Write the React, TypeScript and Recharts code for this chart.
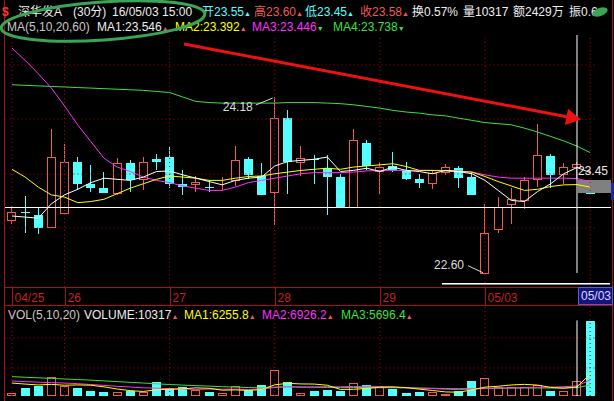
import React from "react";
import { ComposedChart, Bar, Line, XAxis, YAxis, ReferenceLine, ReferenceDot } from "recharts";

// 30-minute bars, 04/25 afternoon through the first bar of 05/04
const SLOTS = ["10:00", "10:30", "11:00", "11:30", "13:30", "14:00", "14:30", "15:00"];
const DAYS = ["04/25", "04/26", "04/27", "04/28", "04/29", "05/03", "05/04"];
// 05/04 sits under the cursor date box, so it gets no label of its own
const DAY_LABELS = ["04/25", "26", "27", "28", "29", "05/03", ""];
const CATS = [
  ...SLOTS.slice(4).map((s) => `04/25 ${s}`),
  ...DAYS.slice(1, 6).flatMap((d) => SLOTS.map((s) => `${d} ${s}`)),
  `05/04 ${SLOTS[0]}`,
];

const OPEN = [
  23.07, 23.15, 23.12, 23.01, 23.14, 23.6, 23.4, 23.36, 23.32, 23.59,
  23.44, 23.62, 23.64, 23.4, 23.4, 23.375, 23.385, 23.43, 23.62, 23.47,
  23.33, 23.99, 23.6, 23.625, 23.54, 23.46, 23.19, 23.77, 23.515, 23.56,
  23.52, 23.44, 23.41, 23.51, 23.54, 23.46, 22.6, 22.99, 23.22, 23.25,
  23.44, 23.65, 23.49, 23.55, 23.315,
];
const HIGH = [
  23.2, 23.29, 23.19, 23.89, 23.76, 23.64, 23.57, 23.51, 23.63, 23.61,
  23.64, 23.67, 23.74, 23.52, 23.47, 23.43, 23.46, 23.74, 23.64, 23.59,
  24.18, 24.06, 23.74, 23.66, 23.66, 23.49, 23.89, 23.79, 23.6, 23.685,
  23.6, 23.49, 23.52, 23.58, 23.56, 23.51, 23.22, 23.28, 23.36, 23.46,
  23.94, 23.67, 23.59, 23.6, 23.315,
];
const LOW = [
  23.04, 22.96, 22.95, 23.0, 23.13, 23.34, 23.33, 23.32, 23.3, 23.33,
  23.34, 23.52, 23.36, 23.3, 23.33, 23.33, 23.34, 23.38, 23.44, 23.3,
  23.03, 23.31, 23.47, 23.4, 23.12, 23.19, 23.19, 23.52, 23.31, 23.505,
  23.43, 23.36, 23.35, 23.48, 23.36, 23.3, 22.6, 22.955, 23.04, 23.17,
  23.37, 23.36, 23.4, 23.45, 23.31,
];
const CLOSE = [
  23.15, 23.14, 23.0, 23.64, 23.6, 23.4, 23.36, 23.32, 23.59, 23.43,
  23.6, 23.6, 23.4, 23.37, 23.42, 23.37, 23.39, 23.61, 23.48, 23.3,
  23.99, 23.6, 23.63, 23.61, 23.46, 23.19, 23.79, 23.56, 23.55, 23.52,
  23.44, 23.41, 23.5, 23.55, 23.45, 23.3, 22.96, 23.19, 23.26, 23.43,
  23.66, 23.48, 23.55, 23.58, 23.31,
];
const MA5 = [
  23.11, 23.1, 23.09, 23.22, 23.3, 23.35, 23.41, 23.45, 23.44, 23.43,
  23.46, 23.51, 23.515, 23.48, 23.45, 23.42, 23.39, 23.43, 23.45, 23.46,
  23.56, 23.6, 23.61, 23.62, 23.64, 23.51, 23.52, 23.54, 23.51, 23.55,
  23.52, 23.51, 23.49, 23.52, 23.51, 23.49, 23.43, 23.34, 23.25, 23.24,
  23.33, 23.4, 23.49, 23.546, 23.5,
];
const MA10 = [
  23.53, 23.46, 23.37, 23.3, 23.28, 23.23, 23.24, 23.26, 23.31, 23.36,
  23.4, 23.44, 23.47, 23.46, 23.45, 23.43, 23.43, 23.45, 23.465, 23.47,
  23.49, 23.505, 23.52, 23.53, 23.54, 23.53, 23.55, 23.56, 23.57, 23.58,
  23.555, 23.52, 23.52, 23.515, 23.51, 23.505, 23.465, 23.42, 23.38, 23.34,
  23.35, 23.375, 23.39, 23.392, 23.37,
];
const MA20 = [
  24.62, 24.51, 24.39, 24.26, 24.1, 23.93, 23.78, 23.63, 23.55, 23.51,
  23.46, 23.43, 23.41, 23.38, 23.36, 23.34, 23.34, 23.37, 23.41, 23.43,
  23.45, 23.47, 23.49, 23.5, 23.5, 23.5, 23.505, 23.515, 23.52, 23.52,
  23.52, 23.52, 23.52, 23.52, 23.515, 23.505, 23.48, 23.46, 23.45, 23.45,
  23.45, 23.45, 23.45, 23.446, 23.42,
];
const MA60 = [
  24.29, 24.285, 24.28, 24.275, 24.27, 24.265, 24.26, 24.255, 24.25, 24.245,
  24.24, 24.23, 24.22, 24.18, 24.14, 24.13, 24.125, 24.125, 24.125, 24.125,
  24.125, 24.13, 24.13, 24.13, 24.125, 24.12, 24.11, 24.095, 24.08, 24.06,
  24.045, 24.035, 24.02, 24.01, 23.99, 23.97, 23.95, 23.94, 23.93, 23.9,
  23.865, 23.825, 23.785, 23.738, 23.68,
];
const VOL = [
  1860, 5700, 6880, 12860, 6880, 5700, 3440, 2750, 2960, 3440,
  2750, 9630, 5300, 5980, 4130, 2960, 1860, 6880, 4130, 7570,
  17880, 9630, 1860, 3650, 4130, 3650, 8730, 7360, 6190, 5020,
  1860, 2960, 2960, 1380, 3650, 10320, 12170, 5980, 5980, 5980,
  7570, 3650, 3440, 10317, 51590,
];
const VMA5 = [
  8900, 8200, 7600, 8000, 7400, 7600, 7400, 6300, 4800, 3700,
  3100, 4300, 4600, 4900, 5600, 5300, 4000, 4200, 3800, 4500,
  7700, 8700, 8300, 8200, 7400, 4500, 4600, 5200, 6000, 6200,
  5800, 4700, 3800, 2800, 2600, 4200, 6100, 6700, 7600, 8000,
  7500, 5900, 5300, 6255.8, 15100,
];
const VMA10 = [
  10300, 9900, 9500, 9200, 8900, 8500, 7900, 7300, 6700, 6200,
  5600, 5400, 5000, 4900, 4500, 4800, 4700, 4700, 4500, 4800,
  5900, 6300, 6000, 6200, 6400, 6300, 6500, 6700, 6500, 6200,
  5600, 5300, 5100, 4700, 4400, 4800, 5200, 5500, 5600, 5800,
  6000, 6100, 6400, 6926.2, 11000,
];
const VMA20 = [
  13300, 12900, 12500, 12100, 11700, 11300, 10900, 10400, 9900, 9400,
  8900, 8400, 7900, 7500, 7100, 6800, 6400, 6100, 5800, 5600,
  6100, 6400, 6200, 6000, 5900, 5800, 5800, 5800, 5700, 5700,
  5600, 5500, 5300, 5100, 5000, 5100, 5200, 5300, 5400, 5500,
  5500, 5500, 5600, 5696.4, 7600,
];

const PRICE_DOMAIN = [22.4714, 24.7376];
const PRICE_GRID = [23.002, 23.488, 23.982, 24.468];
const VOL_DOMAIN = [0, 61900];
const VOL_GRID = [19250, 39900];
const CUR = 43; // cursor bar, 05/03 15:00

const FONT = '"Liberation Sans", Arial, "Noto Sans CJK SC", sans-serif';
const RED = "#f05a55";
const CYAN = "#54ffff";
const WHITE = "#eeeeee";
const YELLOW = "#ffff00";
const MAGENTA = "#ff30ff";
const GREEN = "#3ee03e";
const GRID = "#b00000";
const FRAME = "#a01414";
const DATE_RED = "#c42020";

const rows = CATS.map((t, i) => ({
  t,
  open: OPEN[i],
  high: HIGH[i],
  low: LOW[i],
  close: CLOSE[i],
  ma5: MA5[i],
  ma10: MA10[i],
  ma20: MA20[i],
  ma60: MA60[i],
  vol: VOL[i],
  vma5: VMA5[i],
  vma10: VMA10[i],
  vma20: VMA20[i],
}));
const dayStarts = CATS.filter((t, i) => i === 0 || t.slice(0, 5) !== CATS[i - 1].slice(0, 5));

function Candle(props: any) {
  const { x, y, width, height, payload } = props;
  const { open, high, low, close } = payload;
  const top = Math.min(y, y + height);
  const bot = Math.max(y, y + height);
  const span = high - low;
  const py = (v: number) => (span > 0 ? top + ((high - v) / span) * (bot - top) : top);
  const lx = Math.round(x);
  const wx = lx + 4.5;
  const up = close >= open;
  const bTop = Math.round(py(Math.max(open, close)));
  const bBot = Math.round(py(Math.min(open, close)));
  if (up) {
    return (
      <g>
        <line x1={wx} x2={wx} y1={Math.round(top)} y2={Math.round(bot)} stroke={RED} />
        <rect x={lx + 0.5} y={bTop + 0.5} width={width - 1} height={Math.max(bBot - bTop, 0)} fill="#000" stroke={RED} />
      </g>
    );
  }
  return (
    <g>
      <line x1={wx} x2={wx} y1={Math.round(top)} y2={Math.round(bot)} stroke={CYAN} />
      <rect x={lx} y={bTop} width={width} height={Math.max(bBot - bTop, 1)} fill={CYAN} />
    </g>
  );
}

function VolBar(props: any) {
  const { x, y, width, height, payload } = props;
  const lx = Math.round(x);
  const ty = Math.round(y);
  const h = Math.round(y + height) - ty;
  if (payload.close >= payload.open) {
    return <rect x={lx + 0.5} y={ty + 0.5} width={width - 1} height={Math.max(h - 1, 0)} fill="none" stroke={RED} />;
  }
  return <rect x={lx} y={ty} width={width} height={h} fill={CYAN} />;
}

function DayTick(props: any) {
  const { x, y, payload } = props;
  const label = DAY_LABELS[DAYS.indexOf(String(payload.value).slice(0, 5))];
  const lx = Math.round(x) + 0.5;
  return (
    <g>
      <line x1={lx} x2={lx} y1={y} y2={y + 18} stroke={FRAME} />
      {label && (
        <text x={lx + 2} y={y + 15} fill={DATE_RED} fontSize={12} fontFamily={FONT}>
          {label}
        </text>
      )}
    </g>
  );
}

type Item = { t: string; c: string; x: number; m?: string; mc?: string };
const f2 = (v: number) => v.toFixed(2);
const ROW1: Item[] = [
  { t: "深华发A", c: WHITE, x: 18 },
  { t: "(30分)", c: WHITE, x: 73 },
  { t: "16/05/03 15:00", c: WHITE, x: 112 },
  { t: "开" + f2(OPEN[CUR]), c: CYAN, x: 202, m: "▲", mc: CYAN },
  { t: "高" + f2(HIGH[CUR]), c: RED, x: 254, m: "▲", mc: RED },
  { t: "低" + f2(LOW[CUR]), c: CYAN, x: 305, m: "▲", mc: CYAN },
  { t: "收" + f2(CLOSE[CUR]), c: RED, x: 360, m: "▲", mc: RED },
  { t: "换0.57%", c: WHITE, x: 412 },
  { t: "量" + VOL[CUR], c: WHITE, x: 463 },
  { t: "额2429万", c: WHITE, x: 513 },
  { t: "振0.6", c: WHITE, x: 569 },
];
const ROW2: Item[] = [
  { t: "MA(5,10,20,60)", c: "#c8c8c8", x: 7 },
  { t: "MA1:" + MA5[CUR].toFixed(3), c: WHITE, x: 97, m: "▲", mc: RED },
  { t: "MA2:" + MA10[CUR].toFixed(3), c: YELLOW, x: 175, m: "▲", mc: RED },
  { t: "MA3:" + MA20[CUR].toFixed(3), c: MAGENTA, x: 252, m: "▼", mc: GREEN },
  { t: "MA4:" + MA60[CUR].toFixed(3), c: GREEN, x: 333, m: "▼", mc: GREEN },
];
const ROW3: Item[] = [
  { t: "VOL(5,10,20)", c: "#c8c8c8", x: 8 },
  { t: "VOLUME:" + VOL[CUR], c: WHITE, x: 84, m: "▲", mc: RED },
  { t: "MA1:" + VMA5[CUR].toFixed(1), c: YELLOW, x: 184, m: "▲", mc: RED },
  { t: "MA2:" + VMA10[CUR].toFixed(1), c: MAGENTA, x: 262, m: "▲", mc: RED },
  { t: "MA3:" + VMA20[CUR].toFixed(1), c: GREEN, x: 341, m: "▲", mc: RED },
];

function TextRow({ items, top }: { items: Item[]; top: number }) {
  return (
    <>
      {items.map((it) => (
        <span
          key={it.t}
          style={{ position: "absolute", left: it.x, top, fontSize: 12, lineHeight: "14px", color: it.c, whiteSpace: "nowrap" }}
        >
          {it.t}
          {it.m && <span style={{ fontSize: 7, color: it.mc }}>{it.m}</span>}
        </span>
      ))}
    </>
  );
}

const box = (left: number, top: number, width: number, height: number, background: string): React.CSSProperties => ({
  position: "absolute",
  left,
  top,
  width,
  height,
  background,
});

export default function App() {
  const margin = { top: 0, right: 17.3, bottom: 0, left: 5.4 };
  return (
    <div
      style={{ position: "fixed", left: 0, top: 0, width: 614, height: 401, background: "#000", overflow: "hidden", fontFamily: FONT }}
    >
      <div style={box(578, 180, 33, 13, "#808080")} />
      <div style={box(612, 0, 1, 401, FRAME)} />

      <div style={{ position: "absolute", left: 0, top: 35 }}>
        <ComposedChart width={614} height={270} data={rows} margin={margin}>
          <XAxis
            dataKey="t"
            ticks={dayStarts}
            interval={0}
            tickLine={false}
            axisLine={false}
            tickSize={0}
            tickMargin={0}
            height={18}
            tick={<DayTick />}
          />
          <YAxis type="number" domain={PRICE_DOMAIN} allowDataOverflow hide />
          {PRICE_GRID.map((v) => (
            <ReferenceLine key={v} y={v} stroke={GRID} strokeDasharray="1 3" />
          ))}
          {dayStarts.map((t) => (
            <ReferenceLine key={t} x={t} stroke={GRID} strokeDasharray="1 3" />
          ))}
          <Bar dataKey={(d: any) => [d.low, d.high]} barSize={9} shape={<Candle />} isAnimationActive={false} />
          <Line dataKey="ma60" stroke={GREEN} dot={false} strokeWidth={1} isAnimationActive={false} />
          <Line dataKey="ma20" stroke={MAGENTA} dot={false} strokeWidth={1} isAnimationActive={false} />
          <Line dataKey="ma10" stroke={YELLOW} dot={false} strokeWidth={1} isAnimationActive={false} />
          <Line dataKey="ma5" stroke="#ffffff" dot={false} strokeWidth={1} isAnimationActive={false} />
          <ReferenceLine
            segment={[
              { x: CATS[CUR], y: PRICE_DOMAIN[1] },
              { x: CATS[CUR], y: 22.597 },
            ]}
            stroke="#ffffff"
          />
          <ReferenceDot
            x={CATS[20]}
            y={HIGH[20]}
            r={0}
            shape={(p: any) => (
              <g>
                <line x1={p.cx - 2} y1={p.cy + 1} x2={p.cx - 19} y2={p.cy + 8} stroke="#dddddd" />
                <text x={p.cx - 22} y={p.cy + 14} textAnchor="end" fill="#dddddd" fontSize={12} fontFamily={FONT}>
                  {f2(HIGH[20])}
                </text>
              </g>
            )}
          />
          <ReferenceDot
            x={CATS[36]}
            y={LOW[36]}
            r={0}
            shape={(p: any) => (
              <g>
                <line x1={p.cx - 2} y1={p.cy} x2={p.cx - 17} y2={p.cy - 7} stroke="#dddddd" />
                <text x={p.cx - 21} y={p.cy - 4} textAnchor="end" fill="#dddddd" fontSize={12} fontFamily={FONT}>
                  {f2(LOW[36])}
                </text>
              </g>
            )}
          />
          <ReferenceDot
            x={CATS[CUR]}
            y={LOW[CUR]}
            r={0}
            shape={(p: any) => (
              <text x={p.cx + 1} y={p.cy - 3.5} fill="#e8e8e8" fontSize={12} fontFamily={FONT}>
                {f2(LOW[CUR])}
              </text>
            )}
          />
        </ComposedChart>
      </div>

      <div style={{ position: "absolute", left: 0, top: 306 }}>
        <ComposedChart width={614} height={90} data={rows} margin={margin}>
          <XAxis dataKey="t" hide />
          <YAxis type="number" domain={VOL_DOMAIN} allowDataOverflow hide />
          {VOL_GRID.map((v) => (
            <ReferenceLine key={v} y={v} stroke={GRID} strokeDasharray="1 3" />
          ))}
          {dayStarts.map((t) => (
            <ReferenceLine key={t} x={t} stroke={GRID} strokeDasharray="1 3" />
          ))}
          <Bar dataKey="vol" barSize={9} shape={<VolBar />} isAnimationActive={false} />
          <Line dataKey="vma20" stroke={GREEN} dot={false} strokeWidth={1} isAnimationActive={false} />
          <Line dataKey="vma10" stroke={MAGENTA} dot={false} strokeWidth={1} isAnimationActive={false} />
          <Line dataKey="vma5" stroke={YELLOW} dot={false} strokeWidth={1} isAnimationActive={false} />
          <ReferenceLine
            segment={[
              { x: CATS[CUR], y: 0 },
              { x: CATS[CUR], y: 52000 },
            ]}
            stroke="#ffffff"
          />
        </ComposedChart>
      </div>

      {/* frame, crosshair, scrollbar */}
      <div style={box(4, 0, 1, 401, FRAME)} />
      <div style={box(4, 287, 609, 1, FRAME)} />
      <div style={box(4, 305, 609, 1, FRAME)} />
      <div style={box(5, 207, 606, 1, "#ffffff")} />
      <div style={box(442, 283, 168, 1, "#ffffff")} />
      <div style={box(442, 284, 168, 1, "#8a8a8a")} />
      <div style={box(611, 183, 3, 17, "#2424a8")} />
      <div
        style={{
          ...box(578, 287, 35, 18, "#14147e"),
          boxSizing: "border-box",
          border: "1px solid #5a5ac8",
          color: "#d8d8ff",
          fontSize: 12,
          lineHeight: "16px",
          paddingLeft: 2,
        }}
      >
        05/03
      </div>

      {/* header rows */}
      <span style={{ position: "absolute", left: 2, top: 5, fontSize: 12, lineHeight: "14px", color: "#ff3030", fontWeight: "bold" }}>
        $
      </span>
      <TextRow items={ROW1} top={5} />
      <TextRow items={ROW2} top={20} />
      <TextRow items={ROW3} top={308} />

      {/* hand-drawn annotations */}
      <svg width={614} height={401} style={{ position: "absolute", left: 0, top: 0, pointerEvents: "none" }}>
        <ellipse cx={103} cy={21} rx={102} ry={19} fill="none" stroke="#3aa655" strokeWidth={3} transform="rotate(-4 103 21)" />
        <ellipse cx={600} cy={12} rx={8} ry={4} fill="#3aa655" transform="rotate(-20 600 12)" />
        <line x1={184} y1={44} x2={568} y2={117} stroke="#ee1111" strokeWidth={3} />
        <polygon points="581,119.5 565,125 568,108.8" fill="#ee1111" />
      </svg>
    </div>
  );
}
